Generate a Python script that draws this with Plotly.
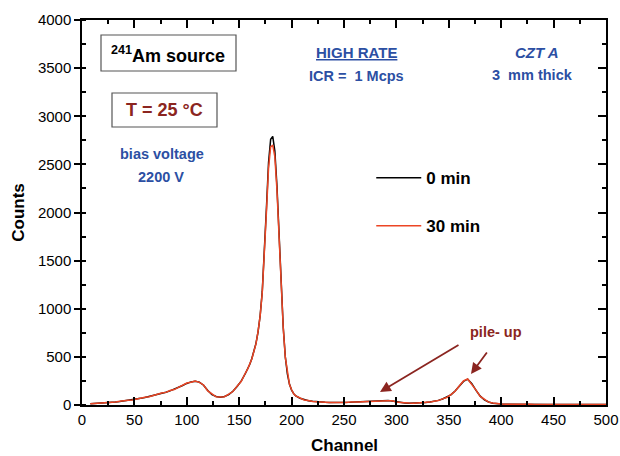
import plotly.graph_objects as go

channels = [8, 12, 16, 20, 24, 28, 32, 36, 40, 44, 48, 52, 56, 60, 64, 68, 72, 76, 80, 84,
            88, 92, 96, 100, 104, 108, 112, 116, 120, 124, 128, 132, 136, 140, 144, 148, 152, 156,
            158, 160, 162, 164, 166, 168, 170, 172, 174, 176, 178, 180, 182, 184, 186, 188, 190, 192,
            194, 196, 198, 200, 202, 204,
            208, 212, 216, 220, 224, 228, 232, 236, 240, 244, 248, 252, 256, 260, 264, 268, 272, 276,
            280, 284, 288, 292, 296, 300, 304, 308, 312, 316, 320, 324, 328, 332, 336, 340, 344, 348,
            352, 356, 360, 364, 368, 372, 376, 380, 384, 388, 392, 396, 400, 404, 408, 412, 416, 420,
            424, 428, 432, 436, 440, 444, 448, 452, 456, 460, 464, 468, 472, 476, 480, 484, 488, 492,
            496, 500]

counts_0min = [12, 14, 17, 20, 24, 27, 31, 36, 41, 47, 54, 61, 69, 78, 88, 99, 110, 121, 133, 147,
               163, 180, 203, 224, 240, 246, 238, 205, 150, 108, 88, 80, 88, 108, 143, 192, 250, 330,
               370, 420, 480, 550, 640, 760, 930, 1180, 1550, 2050, 2520, 2760, 2790, 2640, 2280, 1760,
               1240, 810, 500, 320, 215, 155, 118, 94,
               70, 55, 45, 38, 33, 30, 28, 27, 26, 26, 27, 28, 29, 31, 33, 35, 38, 41, 44, 47,
               48, 46, 41, 33, 26, 21, 19, 19, 20, 23, 26, 31, 38, 48, 62, 80, 105, 145, 195, 245,
               268, 222, 152, 92, 54, 31, 19, 13, 10, 9, 8, 8, 7, 7, 7, 7, 6, 6, 6, 6,
               6, 6, 6, 5, 5, 5, 5, 5, 5, 5, 5, 5, 5, 5]

counts_30min = [13, 15, 16, 22, 23, 29, 30, 38, 40, 49, 52, 63, 68, 80, 86, 101, 108, 124, 131, 150,
                160, 184, 200, 228, 236, 250, 235, 208, 146, 112, 85, 82, 86, 112, 140, 196, 246, 335,
                372, 425, 478, 556, 635, 765, 925, 1170, 1530, 2010, 2460, 2680, 2700, 2580, 2240, 1740,
                1230, 805, 495, 322, 212, 158, 116, 95,
                72, 53, 47, 36, 34, 29, 29, 26, 27, 25, 28, 27, 30, 28, 32, 34, 36, 39, 42, 45,
                50, 45, 43, 31, 27, 20, 20, 18, 21, 22, 27, 30, 40, 46, 64, 78, 108, 142, 198, 250,
                270, 218, 155, 90, 56, 30, 20, 12, 11, 8, 9, 7, 8, 6, 8, 7, 6, 7, 5, 7,
                6, 5, 6, 5, 6, 4, 6, 5, 5, 6, 5, 5, 4, 5]

series_names = ["0 min", "30 min"]
x_ticks = [0, 50, 100, 150, 200, 250, 300, 350, 400, 450, 500]
y_ticks = [0, 500, 1000, 1500, 2000, 2500, 3000, 3500, 4000]

FONT = "Liberation Sans, Arial, sans-serif"
BLACK = "#000000"
RED = "#ec4524"
DARKRED = "#8b2520"
BLUE = "#2c4fa3"

fig = go.Figure()
fig.add_trace(go.Scatter(x=channels, y=counts_0min, mode="lines", name=series_names[0],
                         line=dict(color=BLACK, width=1.5), legendgroup="a"))
fig.add_trace(go.Scatter(x=channels, y=counts_30min, mode="lines", name=series_names[1],
                         line=dict(color=RED, width=1.5), legendgroup="b"))
fig.add_trace(go.Scatter(x=[None], y=[None], xaxis="x2", yaxis="y2", showlegend=False,
                         hoverinfo="skip"))

axis_common = dict(showline=True, linecolor="black", linewidth=1.5, showgrid=False,
                   zeroline=False, tickcolor="black", tickwidth=1.5, automargin=False)

fig.update_layout(
    width=620, height=456,
    margin=dict(l=82, r=14, t=20, b=51, autoexpand=False),
    paper_bgcolor="white", plot_bgcolor="white",
    font=dict(family=FONT, color="black"),
    xaxis=dict(range=[0, 500], tickvals=x_ticks, ticks="inside", ticklen=8,
               minor=dict(dtick=25, tick0=0, ticks="inside", ticklen=4, tickwidth=1.5, tickcolor="black"),
               tickfont=dict(size=15, family=FONT),
               **axis_common),
    yaxis=dict(range=[0, 4000], tickvals=y_ticks, ticks="outside", ticklen=6,
               minor=dict(dtick=250, tick0=0, ticks="inside", ticklen=4, tickwidth=1.5, tickcolor="black"),
               tickfont=dict(size=15, family=FONT),
               title=dict(text="Counts", font=dict(size=17, family=FONT, weight="bold"), standoff=9),
               **axis_common),
    xaxis2=dict(range=[0, 500], overlaying="x", side="top", anchor="y", tickvals=x_ticks,
                ticks="inside", ticklen=8, showticklabels=False,
                minor=dict(dtick=25, tick0=0, ticks="inside", ticklen=4, tickwidth=1.5, tickcolor="black"),
                **axis_common),
    yaxis2=dict(range=[0, 4000], overlaying="y", side="right", anchor="x", tickvals=y_ticks,
                ticks="inside", ticklen=8, showticklabels=False,
                minor=dict(dtick=250, tick0=0, ticks="inside", ticklen=4, tickwidth=1.5, tickcolor="black"),
                **axis_common),
    legend=dict(x=0.552, y=0.636, xanchor="left", yanchor="top", bgcolor="rgba(0,0,0,0)",
                font=dict(size=17, family=FONT, color="black", weight="bold"), tracegroupgap=23,
                itemwidth=45),
    showlegend=True,
)

def px_to_paper(px, py):
    return (px - 82) / 524.0, (405 - py) / 385.0

# Boxes
for (x0, y0, x1, y1) in [(101, 35, 236, 71), (112, 93, 217, 127)]:
    a0, b0 = px_to_paper(x0, y1)
    a1, b1 = px_to_paper(x1, y0)
    fig.add_shape(type="rect", xref="paper", yref="paper", x0=a0, y0=b0, x1=a1, y1=b1,
                  line=dict(color="#555555", width=1.2), fillcolor="rgba(0,0,0,0)")

def ann(text, px, py, color, size, italic=False, xanchor="center"):
    ax, ay = px_to_paper(px, py)
    fig.add_annotation(text=text, x=ax, y=ay, xref="paper", yref="paper", showarrow=False,
                       xanchor=xanchor, yanchor="middle",
                       font=dict(size=size, color=color, family=FONT, weight="bold",
                                 style="italic" if italic else "normal"))

ann("Channel", 344, 445, BLACK, 17)
ann("<sup>241</sup>Am source", 168, 54, BLACK, 18)
ann("T = 25 °C", 164, 110, DARKRED, 18)
ann("bias voltage", 162, 154, BLUE, 14.5)
ann("2200 V", 161, 177, BLUE, 14.5)
ann("<u>HIGH RATE</u>", 356, 52, BLUE, 15)
ann("ICR =  1 Mcps", 356, 76, BLUE, 14.5)
ann("CZT A", 537, 52, BLUE, 15, italic=True)
ann("3  mm thick", 532, 75, BLUE, 14.5)
ann("pile- up", 496, 332, DARKRED, 14.5)

# Arrows
for (sx, sy, ex, ey) in [(460, 344, 380, 392), (488, 351, 471, 374)]:
    ex_p, ey_p = px_to_paper(ex, ey)
    fig.add_annotation(x=ex_p, y=ey_p, xref="paper", yref="paper", ax=sx - ex, ay=sy - ey,
                       axref="pixel", ayref="pixel", text="", showarrow=True,
                       arrowhead=2, arrowsize=1.2, arrowwidth=1.8, arrowcolor=DARKRED)

fig.write_html("out.html")
